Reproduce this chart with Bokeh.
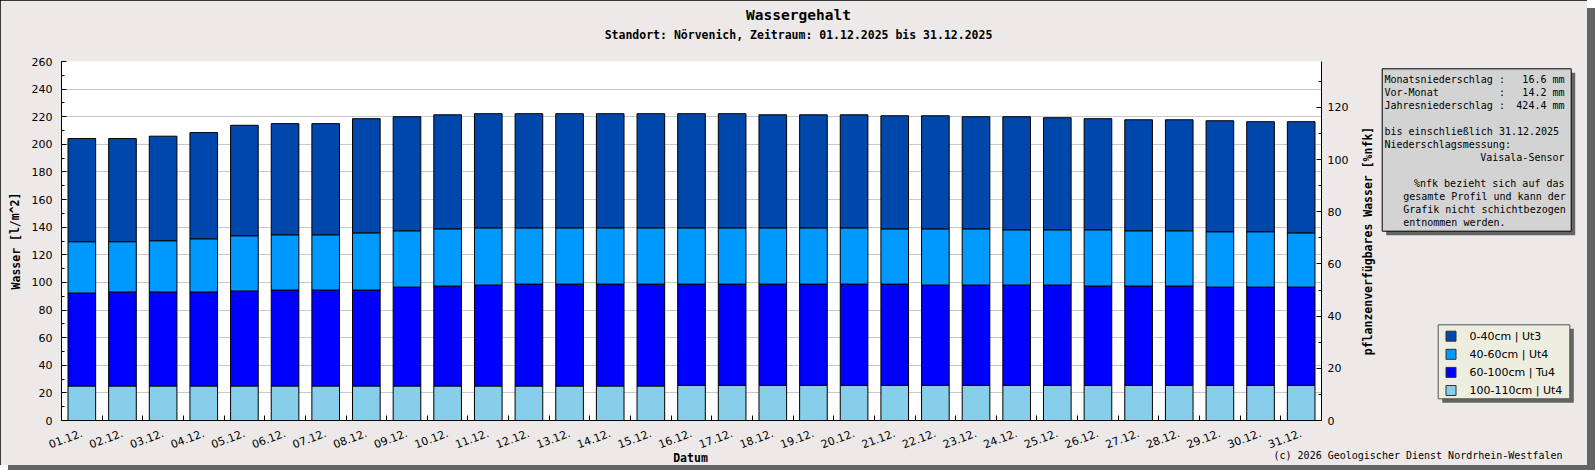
from bokeh.plotting import figure
from bokeh.models import (Range1d, LinearAxis, FixedTicker, SingleIntervalTicker,
                          Label, BoxAnnotation, ColumnDataSource)
from bokeh.embed import file_html
from bokeh.resources import INLINE

# ---------------- data ----------------
days = [f"{d:02d}.12." for d in range(1, 32)]
xs = list(range(1, 32))

# layer thickness in l/m^2 (bottom to top)
l100_110 = [25.0]*15 + [25.5]*16
l60_100 = [67.3, 68.1, 68.1, 68.1, 68.8, 69.5, 69.5, 69.5, 71.6, 72.4, 73.1, 73.8, 73.8, 73.8, 73.8,
           73.3, 73.3, 73.3, 73.3, 73.3, 73.3, 72.6, 72.6, 72.6, 72.6, 71.9, 71.9, 71.9, 71.1, 71.1, 71.1]
l40_60 = [37.2, 36.4, 37.1, 38.5, 40.0, 40.0, 40.0, 41.4, 40.8, 41.4, 41.4, 40.7, 40.7, 40.7, 40.7,
          40.7, 40.7, 40.7, 40.7, 40.7, 40.0, 40.7, 40.7, 40.0, 40.0, 40.7, 40.0, 40.0, 40.1, 40.1, 39.3]
l0_40 = [74.7, 74.7, 75.7, 76.9, 80.0, 80.5, 80.5, 82.7, 82.6, 82.6, 82.7, 82.7, 82.7, 82.7, 82.7,
         82.7, 82.7, 81.9, 81.9, 81.9, 81.9, 81.9, 81.2, 81.9, 81.2, 80.5, 80.4, 80.4, 80.4, 79.7, 80.5]

layer_names = ["0-40cm | Ut3", "40-60cm | Ut4", "60-100cm | Tu4", "100-110cm | Ut4"]
layer_colors = ["#0047AB", "#0099FF", "#0000FF", "#87CEEB"]

nfk_max = 137.6

title = "Wassergehalt"
subtitle = "Standort: Nörvenich, Zeitraum: 01.12.2025 bis 31.12.2025"
ylabel = "Wasser [l/m^2]"
ylabel2 = "pflanzenverfügbares Wasser [%nfk]"
xlabel = "Datum"
footer = "(c) 2026 Geologischer Dienst Nordrhein-Westfalen"
rain_names = ["Monatsniederschlag", "Vor-Monat", "Jahresniederschlag"]
rain_values = ["16.6 mm", "14.2 mm", "424.4 mm"]
info_left = ["bis einschließlich 31.12.2025", "Niederschlagsmessung:"]
info_right = ["Vaisala-Sensor", "", "%nfk bezieht sich auf das"]
info_note = ["gesamte Profil und kann der", "Grafik nicht schichtbezogen", "entnommen werden."]

# ---------------- main chart ----------------
BG = "#ECE9E8"
MONO = "DejaVu Sans Mono"
SANS = "DejaVu Sans"
W, H = 1587, 465
FL, FT, FR, FB = 61, 61, 1321, 420   # plot frame in page pixels

p = figure(width=W, height=H, x_range=Range1d(0.5, 31.5), y_range=Range1d(0, 260),
           output_backend="svg", toolbar_location=None,
           min_border_left=FL, min_border_right=W - FR,
           min_border_top=FT, min_border_bottom=H - FB,
           background_fill_color="white", border_fill_color=BG, outline_line_color=None)
p.title.visible = False
p.styles = {"outline": "2px solid #000000", "outline-offset": "-2px",
            "box-shadow": "8px 8px 0 #646464"}

src = ColumnDataSource(dict(x=xs, l100=l100_110, l60=l60_100, l40=l40_60, l0=l0_40))
p.vbar_stack(["l100", "l60", "l40", "l0"], x="x", width=0.68, source=src,
             fill_color=layer_colors[::-1], line_color="black", line_width=1)

xa = p.xaxis[0]
xa.ticker = FixedTicker(ticks=xs, minor_ticks=[i + 0.5 for i in range(1, 31)])
xa.major_label_overrides = {x: d for x, d in zip(xs, days)}
xa.major_label_orientation = 0.36
xa.major_tick_in = 0
xa.major_tick_out = 0
xa.minor_tick_in = 5
xa.minor_tick_out = 0
xa.minor_tick_line_color = "black"
xa.axis_line_color = "black"
xa.major_label_standoff = 12
xa.major_label_text_font = SANS
xa.major_label_text_font_size = "11px"
xa.major_label_text_color = "black"

ya = p.yaxis[0]
ya.ticker = SingleIntervalTicker(interval=20, num_minor_ticks=2)
ya.major_tick_in = 5
ya.major_tick_out = 0
ya.minor_tick_in = 3
ya.minor_tick_out = 0
ya.major_tick_line_color = "black"
ya.minor_tick_line_color = "black"
ya.axis_line_color = "black"
ya.major_label_standoff = 9
ya.major_label_text_font = SANS
ya.major_label_text_font_size = "11px"
ya.major_label_text_color = "black"

p.xgrid.visible = False
p.ygrid.ticker = SingleIntervalTicker(interval=20)
p.ygrid.grid_line_color = "#C8C8C8"
p.ygrid.grid_line_width = 1

p.extra_y_ranges = {"nfk": Range1d(0, nfk_max)}
ra = LinearAxis(y_range_name="nfk", ticker=SingleIntervalTicker(interval=20, num_minor_ticks=2))
ra.major_tick_in = 5
ra.major_tick_out = 0
ra.minor_tick_in = 3
ra.minor_tick_out = 0
ra.major_tick_line_color = "black"
ra.minor_tick_line_color = "black"
ra.axis_line_color = "black"
ra.major_label_standoff = 6
ra.major_label_text_font = SANS
ra.major_label_text_font_size = "11px"
ra.major_label_text_color = "black"
p.add_layout(ra, "right")

# ---------------- overlay (separate root) for texts, info box and legend ----------------
o = figure(width=W, height=H, x_range=Range1d(0, W), y_range=Range1d(H, 0),
           x_axis_type=None, y_axis_type=None, output_backend="svg", toolbar_location=None,
           min_border=0, background_fill_color=None, border_fill_color=None,
           outline_line_color=None)
o.title.visible = False
o.styles = {"position": "absolute", "left": "0px", "top": "0px"}


def lab(text, ax, ay, size, bold=False, font=MONO, align="left", angle=0.0):
    o.add_layout(Label(x=ax, y=ay, text=text,
                       text_font=font, text_font_size=f"{size}px",
                       text_font_style="bold" if bold else "normal",
                       text_align=align, text_baseline="middle", angle=angle,
                       text_color="black"))


def box(x1, y1, x2, y2, fill, line=None):
    o.add_layout(BoxAnnotation(left=x1, right=x2, top=y1, bottom=y2,
                               fill_color=fill, fill_alpha=1.0,
                               line_color=line, line_alpha=1.0 if line else 0.0,
                               line_width=1, editable=False))


lab(title, 798, 14.5, 14.5, bold=True, align="center")
lab(subtitle, 798, 34, 11.5, bold=True, align="center")
lab(ylabel, 15, 240.5, 11.5, bold=True, align="center", angle=1.5708)
lab(ylabel2, 1367.5, 240.5, 11.5, bold=True, align="center", angle=1.5708)
lab(xlabel, 690, 457.5, 11.5, bold=True, align="center")
lab(footer, 1562, 455, 10, align="right")

# info box
box(1385.7, 72.3, 1574.7, 234.7, "#646464")
box(1381.7, 68.3, 1570.7, 230.7, "#D3D3D3", "black")
CW = 6.02           # monospace character width at 10px
y0 = 79.3
for i, (n, v) in enumerate(zip(rain_names, rain_values)):
    lab(n, 1384, y0 + 13 * i, 10)
    lab(":", 1384 + 19 * CW, y0 + 13 * i, 10)
    lab(v, 1564, y0 + 13 * i, 10, align="right")
for i, t in enumerate(info_left):
    lab(t, 1384, y0 + 13 * (4 + i), 10)
for i, t in enumerate(info_right):
    if t:
        lab(t, 1564, y0 + 13 * (6 + i), 10, align="right")
for i, t in enumerate(info_note):
    lab(t, 1402.7, y0 + 13 * (9 + i), 10)

# legend
box(1441.7, 328.3, 1573.3, 402.3, "#646464")
box(1437.7, 324.3, 1569.3, 398.3, "#EDEDE0", "#555555")
for i, (n, c) in enumerate(zip(layer_names, layer_colors)):
    yc = 335.7 + 18.1 * i
    box(1445.5, yc - 5, 1455.5, yc + 5, c, "#333333")
    lab(n, 1469, yc, 11, font=SANS)

open("out.html", "w").write(file_html([p, o], INLINE))
